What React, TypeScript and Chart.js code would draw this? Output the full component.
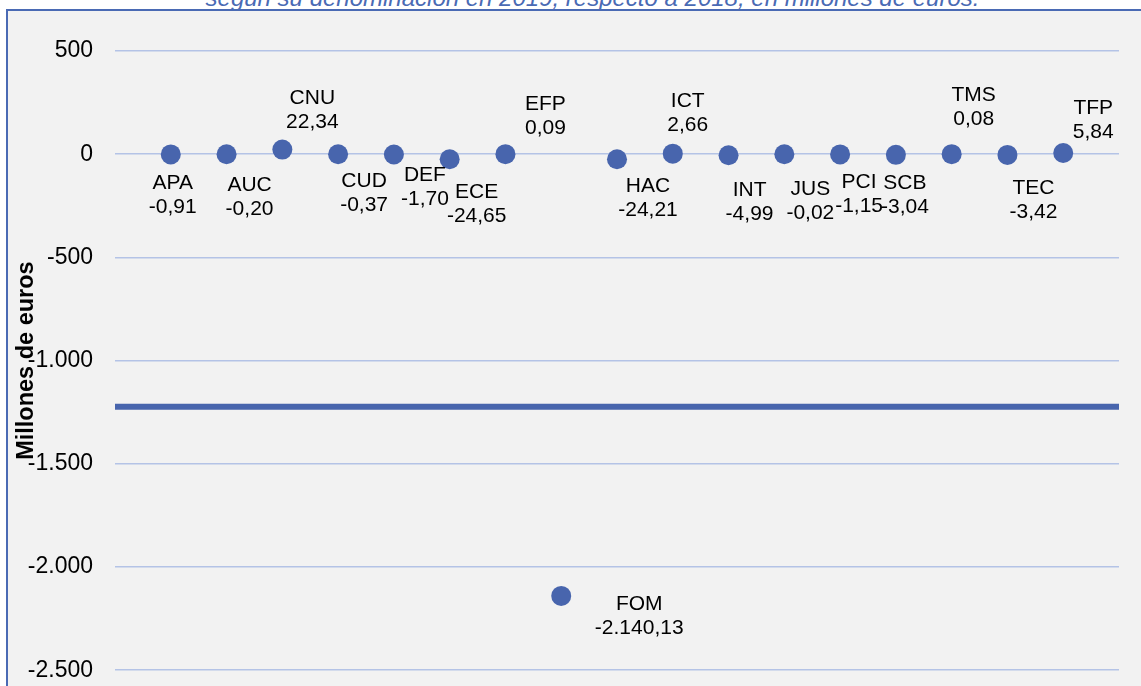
import React, { useEffect, useRef } from 'react';
import { Chart, registerables } from 'chart.js';

Chart.register(...registerables);

const categories = ['APA', 'AUC', 'CNU', 'CUD', 'DEF', 'ECE', 'EFP', 'FOM', 'HAC', 'ICT', 'INT', 'JUS', 'PCI', 'SCB', 'TMS', 'TEC', 'TFP'];
const values = [-0.91, -0.2, 22.34, -0.37, -1.7, -24.65, 0.09, -2140.13, -24.21, 2.66, -4.99, -0.02, -1.15, -3.04, 0.08, -3.42, 5.84];
const referenceValue = -1223;
const referenceX = [0, 18];
const yTicks = [500, 0, -500, -1000, -1500, -2000, -2500];
const titleText = 'según su denominación en 2019, respecto a 2018, en millones de euros.';
const yAxisTitle = 'Millones de euros';

// Data-label placement relative to each point (dx, dy of first line baseline), in px
const labelOffsets = [
  [2, 35], [23, 37], [30, -46], [26, 33], [31, 26], [27, 39], [40, -44], [78, 14], [31, 33],
  [15, -47], [21, 41], [26, 41], [19, 34], [9, 34], [22, -53], [26, 39], [30, -39],
];

const FONT = '"Liberation Sans", Arial, Helvetica, sans-serif';
const DOT = '#4865ad';
const FRAME = '#4a6ab4';
const GRID = '#b4c3e6';
const CANVAS_W = 1141;
const CANVAS_H = 706;

function fmt(v: number, decimals: number): string {
  const neg = v < 0;
  const fixed = Math.abs(v).toFixed(decimals);
  const [intPart, dec] = fixed.split('.');
  const grouped = intPart.replace(/\B(?=(\d{3})+(?!\d))/g, '.');
  return (neg ? '-' : '') + grouped + (dec ? ',' + dec : '');
}

const labelPlugin = {
  id: 'pointLabels',
  afterDatasetsDraw(chart: any) {
    const ctx = chart.ctx;
    const meta = chart.getDatasetMeta(0);
    ctx.save();
    ctx.fillStyle = '#000';
    ctx.font = `21px ${FONT}`;
    ctx.textAlign = 'center';
    ctx.textBaseline = 'alphabetic';
    meta.data.forEach((el: any, i: number) => {
      const [dx, dy] = labelOffsets[i];
      const x = el.x + dx;
      const y = el.y + dy;
      ctx.fillText(categories[i], x, y);
      ctx.fillText(fmt(values[i], 2), x, y + 24);
    });
    ctx.restore();
  },
};

const axisTitlePlugin = {
  id: 'axisTitle',
  afterDraw(chart: any) {
    const ctx = chart.ctx;
    const area = chart.chartArea;
    ctx.save();
    ctx.translate(33, (area.top + area.bottom) / 2);
    ctx.rotate(-Math.PI / 2);
    ctx.fillStyle = '#000';
    ctx.font = `bold 23.5px ${FONT}`;
    ctx.textAlign = 'center';
    ctx.textBaseline = 'alphabetic';
    ctx.fillText(yAxisTitle, 0, 0);
    ctx.restore();
  },
};

export default function App() {
  const ref = useRef<HTMLCanvasElement>(null);

  useEffect(() => {
    if (!ref.current) return;
    const chart = new Chart(ref.current, {
      type: 'scatter',
      data: {
        datasets: [
          {
            data: values.map((v, i) => ({ x: i + 1, y: v })),
            backgroundColor: DOT,
            borderColor: DOT,
            borderWidth: 0,
            pointRadius: 10,
            pointHoverRadius: 10,
          },
          {
            data: referenceX.map((x) => ({ x, y: referenceValue })),
            showLine: true,
            borderColor: DOT,
            borderWidth: 6,
            pointRadius: 0,
            pointHoverRadius: 0,
            clip: false,
          } as any,
        ],
      },
      options: {
        responsive: false,
        animation: false,
        devicePixelRatio: 1,
        layout: { padding: { left: 0, right: 22, top: 51, bottom: 17 } },
        plugins: {
          legend: { display: false },
          tooltip: { enabled: false },
        },
        scales: {
          x: { type: 'linear', min: 0, max: 18, display: false },
          y: {
            min: -2500,
            max: 500,
            afterBuildTicks: (scale: any) => {
              scale.ticks = yTicks.map((value) => ({ value }));
            },
            afterFit: (scale: any) => {
              scale.width = 115;
            },
            border: { display: false },
            grid: { color: GRID, lineWidth: 1.5, drawTicks: false },
            ticks: {
              padding: 22,
              color: '#000',
              font: { family: FONT, size: 23 },
              callback: (v: any) => fmt(Number(v), 0),
            },
          },
        },
      },
      plugins: [labelPlugin, axisTitlePlugin],
    });
    return () => chart.destroy();
  }, []);

  return (
    <div style={{ position: 'fixed', inset: 0, overflow: 'hidden', background: '#fff' }}>
      <div
        style={{
          position: 'absolute',
          left: 0,
          top: -14,
          width: 1185,
          textAlign: 'center',
          fontFamily: FONT,
          fontStyle: 'italic',
          fontSize: 24,
          lineHeight: '24px',
          color: FRAME,
          whiteSpace: 'nowrap',
        }}
      >
        {titleText}
      </div>
      <div
        style={{
          position: 'absolute',
          left: 6,
          top: 9,
          width: 1300,
          height: 900,
          borderTop: `2px solid ${FRAME}`,
          borderLeft: `2px solid ${FRAME}`,
          background: '#f2f2f2',
        }}
      />
      <canvas
        ref={ref}
        width={CANVAS_W}
        height={CANVAS_H}
        style={{ position: 'absolute', left: 0, top: 0, width: CANVAS_W, height: CANVAS_H, display: 'block' }}
      />
    </div>
  );
}
